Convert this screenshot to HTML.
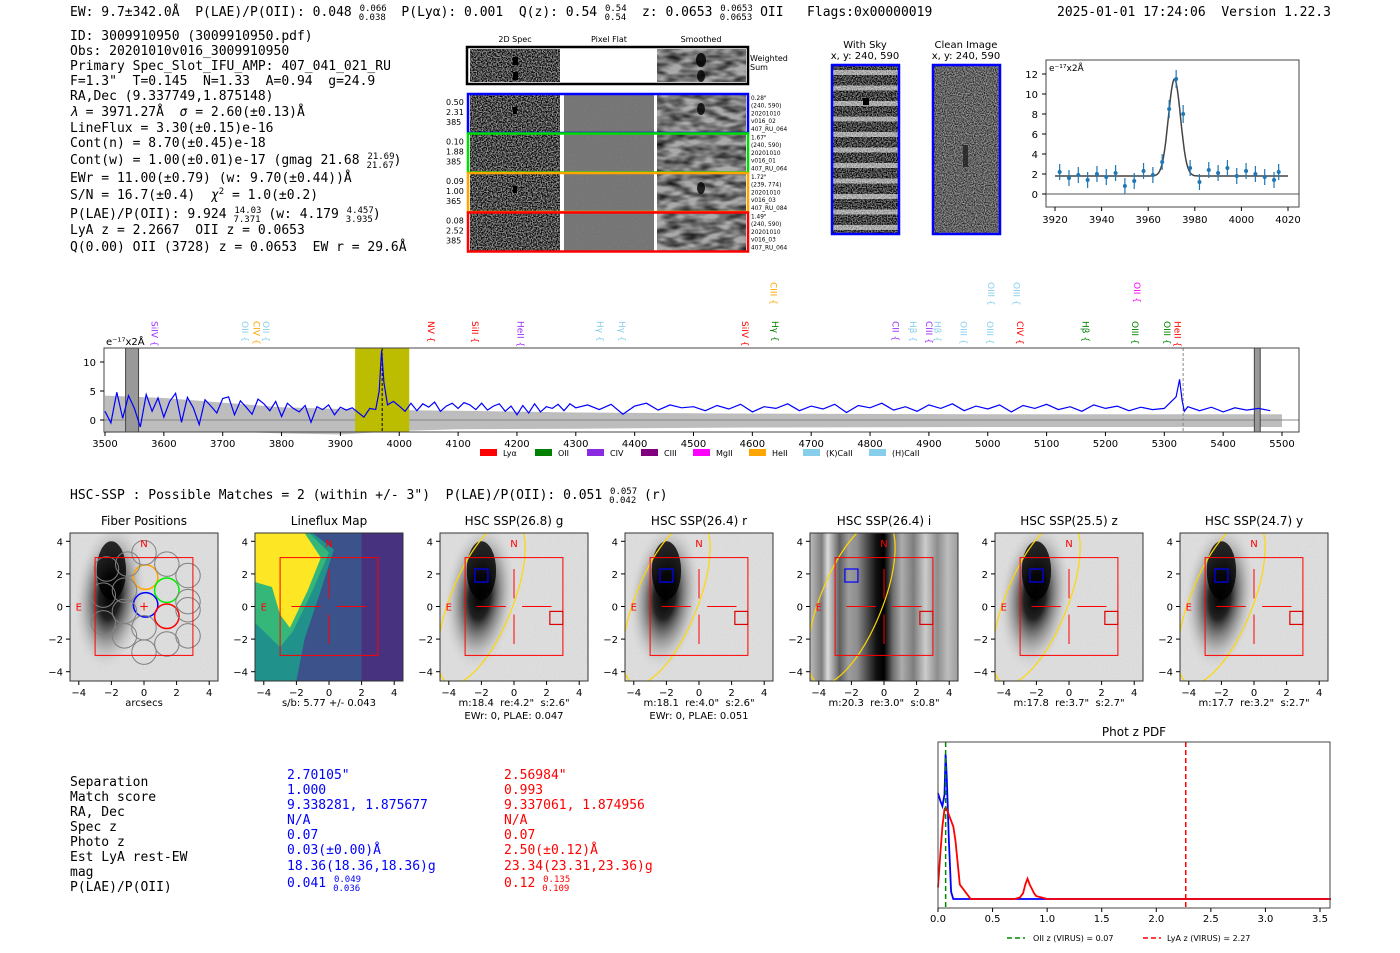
<!DOCTYPE html>
<html><head><meta charset="utf-8">
<style>
html,body{margin:0;padding:0;background:#fff;}
svg{display:block;}
text{white-space:pre;}
.m{font-family:"DejaVu Sans Mono","Liberation Mono",monospace;font-size:13px;}
.s{font-family:"DejaVu Sans","Liberation Sans",sans-serif;}
</style></head>
<body>
<svg id="root" width="1400" height="953" viewBox="0 0 1400 953" xmlns="http://www.w3.org/2000/svg" xml:space="preserve">
<defs>
<filter id="noise" x="0" y="0" width="100%" height="100%"><feTurbulence type="fractalNoise" baseFrequency="0.8" numOctaves="1" seed="3"/><feColorMatrix type="matrix" values="0 0 0 0 0  0 0 0 0 0  0 0 0 0 0  0 0 0 -3 2.0"/></filter>
<filter id="noise2" x="0" y="0" width="100%" height="100%"><feTurbulence type="fractalNoise" baseFrequency="0.9" numOctaves="1" seed="8"/><feColorMatrix type="matrix" values="0 0 0 0 0  0 0 0 0 0  0 0 0 0 0  0 0 0 -2 1.35"/></filter>
<filter id="smooth" x="0" y="0" width="100%" height="100%"><feTurbulence type="fractalNoise" baseFrequency="0.06 0.15" numOctaves="2" seed="5"/><feColorMatrix type="matrix" values="0 0 0 0 0  0 0 0 0 0  0 0 0 0 0  0 0 0 -1.5 1.05"/></filter>
<filter id="flat" x="0" y="0" width="100%" height="100%"><feTurbulence type="fractalNoise" baseFrequency="0.9" numOctaves="1" seed="2"/><feColorMatrix type="matrix" values="0 0 0 0 0  0 0 0 0 0  0 0 0 0 0  0 0 0 -0.3 0.45"/></filter>
<radialGradient id="blob" cx="0.5" cy="0.5" r="0.5"><stop offset="0" stop-color="#000"/><stop offset="0.3" stop-color="#222"/><stop offset="0.65" stop-color="#888" stop-opacity="0.6"/><stop offset="1" stop-color="#ddd" stop-opacity="0"/></radialGradient>
<linearGradient id="stripes" x1="0" y1="0" x2="1" y2="0"><stop offset="0" stop-color="#ccc"/><stop offset="0.08" stop-color="#888"/><stop offset="0.12" stop-color="#eee"/><stop offset="0.2" stop-color="#666"/><stop offset="0.26" stop-color="#aaa"/><stop offset="0.32" stop-color="#999"/><stop offset="0.4" stop-color="#444"/><stop offset="0.45" stop-color="#111"/><stop offset="0.5" stop-color="#000"/><stop offset="0.56" stop-color="#777"/><stop offset="0.62" stop-color="#bbb"/><stop offset="0.7" stop-color="#888"/><stop offset="0.78" stop-color="#ddd"/><stop offset="0.86" stop-color="#999"/><stop offset="0.93" stop-color="#ccc"/><stop offset="1" stop-color="#aaa"/></linearGradient>
</defs>

<g class="m" fill="#000">
<text x="70" y="16">EW: 9.7±342.0Å  P(LAE)/P(OII): 0.048 <tspan font-size="9" dy="-5">0.066</tspan><tspan font-size="9" dx="-28" dy="9">0.038</tspan><tspan dy="-4">  P(Lyα): 0.001  Q(z): 0.54 </tspan><tspan font-size="9" dy="-5">0.54</tspan><tspan font-size="9" dx="-22" dy="9">0.54</tspan><tspan dy="-4">  z: 0.0653 </tspan><tspan font-size="9" dy="-5">0.0653</tspan><tspan font-size="9" dx="-33" dy="9">0.0653</tspan><tspan dy="-4"> OII   Flags:0x00000019</tspan></text>
<text x="1057" y="16">2025-01-01 17:24:06  Version 1.22.3</text>
</g>
<g class="m" fill="#000">
<text x="70" y="40">ID: 3009910950 (3009910950.pdf)</text>
<text x="70" y="55">Obs: 20201010v016_3009910950</text>
<text x="70" y="70">Primary Spec_Slot_IFU_AMP: 407_041_021_RU</text>
<text x="70" y="85">F=1.3"  T=0.145  N=1.33  A=0.94  g=24.9</text>
<text x="70" y="100">RA,Dec (9.337749,1.875148)</text>
<text x="70" y="116"><tspan font-style="italic">λ</tspan> = 3971.27Å  <tspan font-style="italic">σ</tspan> = 2.60(±0.13)Å</text>
<text x="70" y="132">LineFlux = 3.30(±0.15)e-16</text>
<text x="70" y="147">Cont(n) = 8.70(±0.45)e-18</text>
<text x="70" y="164">Cont(w) = 1.00(±0.01)e-17 (gmag 21.68 <tspan font-size="9" dy="-5">21.69</tspan><tspan font-size="9" dx="-28" dy="9">21.67</tspan><tspan dy="-4">)</tspan></text>
<text x="70" y="182">EWr = 11.00(±0.79) (w: 9.70(±0.44))Å</text>
<text x="70" y="199">S/N = 16.7(±0.4)  <tspan font-style="italic">χ</tspan><tspan font-size="9" dy="-5">2</tspan><tspan dy="5"> = 1.0(±0.2)</tspan></text>
<text x="70" y="218">P(LAE)/P(OII): 9.924 <tspan font-size="9" dy="-5">14.03</tspan><tspan font-size="9" dx="-28" dy="9">7.371</tspan><tspan dy="-4"> (w: 4.179 </tspan><tspan font-size="9" dy="-5">4.457</tspan><tspan font-size="9" dx="-28" dy="9">3.935</tspan><tspan dy="-4">)</tspan></text>
<text x="70" y="234">LyA z = 2.2667  OII z = 0.0653</text>
<text x="70" y="251">Q(0.00) OII (3728) z = 0.0653  EW r = 29.6Å</text>
</g>

<g class="s">
<text x="515" y="42" font-size="8" text-anchor="middle">2D Spec</text>
<text x="609" y="42" font-size="8" text-anchor="middle">Pixel Flat</text>
<text x="701" y="42" font-size="8" text-anchor="middle">Smoothed</text>
<rect x="467" y="47" width="281" height="37" fill="#fff" stroke="#000" stroke-width="2.5"/>
<rect x="470" y="49" width="90" height="33" fill="#999"/>
<rect x="470" y="49" width="90" height="33" filter="url(#noise)"/>
<rect x="657" y="49" width="89" height="33" fill="#aaa"/>
<rect x="657" y="49" width="89" height="33" filter="url(#smooth)"/>
<rect x="513" y="57" width="5" height="8" fill="#000"/><rect x="513" y="72" width="5" height="8" fill="#000"/>
<ellipse cx="701" cy="60" rx="5" ry="7" fill="#000" opacity="0.85"/><ellipse cx="701" cy="76" rx="4" ry="6" fill="#000" opacity="0.8"/>
<text x="750" y="61" font-size="8">Weighted</text><text x="750" y="70" font-size="8">Sum</text>
</g>
<g class="s" font-size="8" id="fiberRows"></g>

<g class="s">
<text x="865" y="48" font-size="10" text-anchor="middle">With Sky</text>
<text x="865" y="59" font-size="10" text-anchor="middle">x, y: 240, 590</text>
<rect x="832" y="65" width="67" height="169" fill="#888"/>
<rect x="832" y="65" width="67" height="169" filter="url(#noise)"/>
<g opacity="0.55" id="skyStripes"></g>
<rect x="863" y="98" width="6" height="7" fill="#000"/>
<rect x="832" y="65" width="67" height="169" fill="none" stroke="#00f" stroke-width="2.5"/>
<text x="966" y="48" font-size="10" text-anchor="middle">Clean Image</text>
<text x="966" y="59" font-size="10" text-anchor="middle">x, y: 240, 590</text>
<rect x="933" y="65" width="67" height="169" fill="#999"/>
<rect x="933" y="65" width="67" height="169" filter="url(#noise2)"/>
<rect x="963" y="145" width="5" height="22" fill="#222" opacity="0.8"/>
<rect x="933" y="65" width="67" height="169" fill="none" stroke="#00f" stroke-width="2.5"/>
</g>

<g id="fitPanel" class="s"></g>
<g id="specPanel" class="s"></g>

<text class="m" x="70" y="499">HSC-SSP : Possible Matches = 2 (within +/- 3")  P(LAE)/P(OII): 0.051 <tspan font-size="9" dy="-5">0.057</tspan><tspan font-size="9" dx="-28" dy="9">0.042</tspan><tspan dy="-4"> (r)</tspan></text>

<g id="imgPanels" class="s"></g>

<g class="m">
<g fill="#000">
<text x="70" y="786">Separation</text><text x="70" y="801">Match score</text><text x="70" y="816">RA, Dec</text><text x="70" y="831">Spec z</text><text x="70" y="846">Photo z</text><text x="70" y="861">Est LyA rest-EW</text><text x="70" y="876">mag</text><text x="70" y="891">P(LAE)/P(OII)</text>
</g>
<g fill="#00f">
<text x="287" y="779">2.70105"</text><text x="287" y="794">1.000</text><text x="287" y="809">9.338281, 1.875677</text><text x="287" y="824">N/A</text><text x="287" y="839">0.07</text><text x="287" y="854">0.03(±0.00)Å</text><text x="287" y="870">18.36(18.36,18.36)g</text><text x="287" y="887">0.041 <tspan font-size="9" dy="-5">0.049</tspan><tspan font-size="9" dx="-28" dy="9">0.036</tspan></text>
</g>
<g fill="#f00">
<text x="504" y="779">2.56984"</text><text x="504" y="794">0.993</text><text x="504" y="809">9.337061, 1.874956</text><text x="504" y="824">N/A</text><text x="504" y="839">0.07</text><text x="504" y="854">2.50(±0.12)Å</text><text x="504" y="870">23.34(23.31,23.36)g</text><text x="504" y="887">0.12 <tspan font-size="9" dy="-5">0.135</tspan><tspan font-size="9" dx="-28" dy="9">0.109</tspan></text>
</g>
</g>

<g id="pdfPanel" class="s"></g>
</svg>

<script>
const specWave = [3500,3510,3520,3530,3540,3550,3560,3570,3580,3590,3600,3610,3620,3630,3640,3650,3660,3670,3680,3690,3700,3710,3720,3730,3740,3750,3760,3770,3780,3790,3800,3810,3820,3830,3840,3850,3860,3870,3880,3890,3900,3910,3920,3930,3940,3950,3960,3966,3970,3974,3980,3990,4000,4010,4020,4030,4040,4050,4060,4070,4080,4090,4100,4110,4120,4130,4140,4150,4160,4170,4180,4190,4200,4210,4220,4230,4240,4250,4260,4270,4280,4290,4300,4320,4340,4360,4380,4400,4420,4440,4460,4480,4500,4520,4540,4560,4580,4600,4620,4640,4660,4680,4700,4720,4740,4760,4780,4800,4820,4840,4860,4880,4900,4920,4940,4960,4980,5000,5020,5040,5060,5080,5100,5120,5140,5160,5180,5200,5220,5240,5260,5280,5300,5320,5326,5330,5334,5340,5360,5380,5400,5420,5440,5460,5480,5500];
const specFlux = [1.5,-0.5,4.8,0.3,4.2,2.0,-1.2,4.4,1.5,3.8,0.5,3.2,4.6,-0.4,3.9,2.1,-0.8,3.5,2.4,1.2,3.7,4.0,0.9,3.3,2.2,1.0,3.6,2.8,1.6,3.2,0.6,2.9,2.0,1.4,2.5,-0.4,2.3,1.8,2.6,0.9,2.2,1.7,2.1,1.3,0.5,2.0,1.8,5.0,12.0,6.5,2.6,3.2,2.4,1.5,2.9,1.6,2.8,2.2,3.1,1.5,2.4,2.9,2.0,3.0,2.6,1.8,2.9,1.7,2.4,2.8,1.5,2.4,0.9,2.5,1.2,2.8,1.4,2.3,2.0,2.7,1.6,2.8,2.1,2.6,1.8,2.7,1.0,2.4,2.9,1.7,2.6,2.1,2.3,1.6,2.5,1.9,2.7,1.4,2.3,2.0,2.8,1.6,2.4,1.9,2.7,1.3,2.5,2.1,2.9,1.7,2.3,1.5,2.6,2.0,2.8,1.6,2.4,1.9,2.6,1.4,2.5,2.0,2.7,1.8,2.3,1.5,2.6,2.0,2.4,1.6,2.2,1.8,2.0,4.0,7.0,3.5,1.5,2.3,1.6,2.2,1.4,2.1,1.7,2.0,1.6];
const skyWave = [3500,3600,3700,3800,3900,4000,4100,4300,4600,5000,5500];
const skyHi = [4.2,3.8,3.0,2.2,1.9,1.7,1.6,1.3,1.1,1.0,1.0];
const skyLo = [-2.2,-2.1,-2.0,-2.3,-2.5,-1.9,-1.6,-1.5,-1.3,-1.2,-1.2];
const specXTicks = [3500,3600,3700,3800,3900,4000,4100,4200,4300,4400,4500,4600,4700,4800,4900,5000,5100,5200,5300,5400,5500];
const specYTicks = [0,5,10];
const lineNames = ["SiIV","OII","CIV","OII","NV","SiII","HeII","Hγ","Hγ","SiIV","CIII","Hγ","CII","Hβ","CIII","Hβ","OIII","OIII","OIII","OIII","CIV","Hβ","OIII","OII","OIII","HeII"];
const lineWaves = [3583,3737,3757,3773,4053,4128,4205,4340,4378,4587,4635,4638,4842,4872,4899,4914,4958,5003,5005,5048,5054,5165,5249,5253,5304,5322];
const lineColors = ["#9b30ff","#87ceeb","#ffa500","#87ceeb","#f00","#f00","#9b30ff","#87ceeb","#87ceeb","#f00","#ffa500","#008000","#9b30ff","#87ceeb","#9b30ff","#87ceeb","#87ceeb","#87ceeb","#87ceeb","#87ceeb","#f00","#008000","#008000","#f0f","#008000","#f00"];
const lineHigh = [0,0,0,0,0,0,0,0,0,0,1,0,0,0,0,0,0,0,1,1,0,0,0,1,0,0];
const legendNames = ["Lyα","OII","CIV","CIII","MgII","HeII","(K)CaII","(H)CaII"];
const legendColors = ["#f00","#008000","#8a2be2","#800080","#f0f","#ffa500","#87ceeb","#87ceeb"];

const fitWave = [3922,3926,3930,3934,3938,3942,3946,3950,3954,3958,3962,3966,3969,3972,3975,3978,3982,3986,3990,3994,3998,4002,4006,4010,4014,4016];
const fitFlux = [2.2,1.6,1.9,1.4,2.0,1.7,2.1,0.8,1.3,2.3,1.9,3.2,8.5,11.5,8.0,2.6,1.2,2.4,2.1,2.6,1.8,2.3,2.0,1.7,1.4,2.2];
const fitErr = [0.8,0.8,0.8,0.8,0.8,0.8,0.8,0.8,0.8,0.8,0.8,0.8,0.9,0.9,0.9,0.8,0.8,0.8,0.8,0.8,0.8,0.8,0.8,0.8,0.8,0.8];
const fitXTicks = [3920,3940,3960,3980,4000,4020];
const fitYTicks = [0,2,4,6,8,10,12];
const modelCont = 1.8, modelPeak = 9.7, modelCenter = 3971.27, modelSigma = 2.6;

const pdfZ = [0,0.02,0.04,0.06,0.07,0.08,0.1,0.12,0.14,0.16,0.2,0.25,0.3,0.5,0.7,0.75,0.78,0.8,0.82,0.84,0.86,0.88,0.9,0.95,1.0,1.5,2.0,3.0,3.6];
const pdfBlue = [0.73,0.68,0.64,0.72,1.0,0.85,0.4,0.05,0.0,0.0,0.0,0.0,0.0,0.0,0.0,0.0,0.0,0.0,0.0,0.0,0.0,0.0,0.0,0.0,0.0,0.0,0.0,0.0,0.0];
const pdfRed = [0.08,0.3,0.5,0.62,0.63,0.62,0.58,0.54,0.5,0.4,0.1,0.05,0.0,0.0,0.0,0.01,0.04,0.1,0.14,0.1,0.07,0.04,0.02,0.01,0.0,0.0,0.0,0.0,0.0];
const pdfXTicks = [0.0,0.5,1.0,1.5,2.0,2.5,3.0,3.5];
const oiiZ = 0.07, lyaZ = 2.27;

const panelTitles = ["Fiber Positions","Lineflux Map","HSC SSP(26.8) g","HSC SSP(26.4) r","HSC SSP(26.4) i","HSC SSP(25.5) z","HSC SSP(24.7) y"];
const panelCaption1 = ["arcsecs","s/b: 5.77 +/- 0.043","m:18.4  re:4.2\"  s:2.6\"","m:18.1  re:4.0\"  s:2.6\"","m:20.3  re:3.0\"  s:0.8\"","m:17.8  re:3.7\"  s:2.7\"","m:17.7  re:3.2\"  s:2.7\""];
const panelCaption2 = ["","","EWr: 0, PLAE: 0.047","EWr: 0, PLAE: 0.051","","",""];
const panelTicks = [-4,-2,0,2,4];
const fiberX = [0.1,0.1,1.4,1.4,0.0,1.4,2.7,2.7,2.7,1.4,0.0,0.0,-1.2,-1.2,-2.5,-2.5,-2.3,-1.0,-1.2,2.7];
const fiberY = [0.1,1.8,1.0,-0.6,3.3,2.6,1.9,0.3,-1.8,-2.3,-2.8,-1.3,-1.8,-0.3,-1.0,0.7,2.3,2.6,1.0,-0.2];
const fiberCol = ["#00f","orange","#0e0","#f00","gray","gray","gray","gray","gray","gray","gray","gray","gray","gray","gray","gray","gray","gray","gray","gray"];
const rowVals = [["0.50","2.31","385"],["0.10","1.88","385"],["0.09","1.00","365"],["0.08","2.52","385"]];
const rowInfo = [["0.28\"","(240, 590)","20201010","v016_02","407_RU_064"],["1.67\"","(240, 590)","20201010","v016_01","407_RU_064"],["1.72\"","(239, 774)","20201010","v016_03","407_RU_084"],["1.49\"","(240, 590)","20201010","v016_03","407_RU_064"]];
const rowColors = ["#00f","#0d0","orange","#f00"];

const NS="http://www.w3.org/2000/svg";
function mk(tag, attrs, parent, txt){const e=document.createElementNS(NS,tag);for(const k in attrs)e.setAttribute(k,attrs[k]);if(txt!==undefined)e.textContent=txt;if(parent)parent.appendChild(e);return e;}

(function(){
 const g=document.getElementById('fiberRows');
 for(let i=0;i<4;i++){
  const y=95+i*39.5;
  const r=mk('g',{},g);
  
  
  mk('rect',{x:470,y:y,width:90,height:37,fill:'#999'},r);
  mk('rect',{x:470,y:y,width:90,height:37,filter:'url(#noise)'},r);
  mk('rect',{x:564,y:y,width:90,height:37,fill:'#8c8c8c'},r);
  mk('rect',{x:564,y:y,width:90,height:37,filter:'url(#flat)',opacity:0.5},r);
  mk('rect',{x:657,y:y,width:89,height:37,fill:'#aaa'},r);
  mk('rect',{x:657,y:y,width:89,height:37,filter:'url(#smooth)'},r);
  if(i===0||i===2){mk('ellipse',{cx:701,cy:y+14,rx:4,ry:6,fill:'#000',opacity:0.8},r);mk('rect',{x:513,y:y+12,width:4,height:7,fill:'#000'},r);}
  mk('rect',{x:468,y:y-1,width:280,height:39,fill:'none',stroke:rowColors[i],'stroke-width':2.5},r);
  rowVals[i].forEach((t,j)=>mk('text',{x:446,y:y+10+j*10},r,t));
  rowInfo[i].forEach((t,j)=>mk('text',{x:751,y:y+5+j*7.7,'font-size':5.8},r,t));
 }
 const ss=document.getElementById('skyStripes');
 for(let k=0;k<11;k++) mk('rect',{x:832,y:70+k*15.5,width:67,height:5,fill:'#fff'},ss);
})();

(function(){
 const g=document.getElementById('specPanel');
 const X0=105,X1=1282,L=104,R=1299,T=348,B=432;
 const sx=w=>X0+(w-3500)*(X1-X0)/2000;
 const sy=v=>420-v*5.8;
 let d='';skyWave.forEach((w,i)=>d+=(i?'L':'M')+sx(w)+','+sy(skyHi[i]));
 for(let i=skyWave.length-1;i>=0;i--)d+='L'+sx(skyWave[i])+','+sy(skyLo[i]);
 const band=mk('path',{d:d+'Z',fill:'#bdbdbd'},g);
 
 
 mk('line',{x1:L,x2:R,y1:sy(0),y2:sy(0),stroke:'#888','stroke-width':1},g);
 const hl=mk('rect',{x:sx(3925),y:T,width:sx(4017)-sx(3925),height:B-T,fill:'#bcbc00'},g);
 
 
 [[3535,3557],[5453,5463]].forEach(p=>{const m=mk('rect',{x:sx(p[0]),y:T,width:sx(p[1])-sx(p[0]),height:B-T,fill:'#999',stroke:'#444'},g);
  
  });
 mk('line',{x1:sx(3971),x2:sx(3971),y1:T,y2:B,stroke:'#000','stroke-dasharray':'3,2'},g);
 mk('line',{x1:sx(5332),x2:sx(5332),y1:T,y2:B,stroke:'#888','stroke-dasharray':'3,2'},g);
 let p='';specWave.forEach((w,i)=>p+=(i?'L':'M')+sx(w).toFixed(1)+','+sy(specFlux[i]).toFixed(1));
 const sl=mk('path',{d:p,fill:'none',stroke:'#00f','stroke-width':1.2},g);
 
 
 mk('rect',{x:L,y:T,width:R-L,height:B-T,fill:'none',stroke:'#444','stroke-width':1},g);
 specXTicks.forEach(t=>{mk('line',{x1:sx(t),x2:sx(t),y1:B,y2:B+4,stroke:'#000'},g);const e=mk('text',{x:sx(t),y:B+15,'font-size':10,'text-anchor':'middle'},g,t);
  
  });
 specYTicks.forEach(t=>{mk('line',{x1:L-4,x2:L,y1:sy(t),y2:sy(t),stroke:'#000'},g);mk('text',{x:L-8,y:sy(t)+4,'font-size':10,'text-anchor':'end'},g,t);});
 mk('text',{x:106,y:345,'font-size':10},g,'e⁻¹⁷x2Å');
 lineNames.forEach((n,i)=>{const x=sx(lineWaves[i]);const y=lineHigh[i]?282:321;
  const t=mk('text',{x:x,y:y,'font-size':9,fill:lineColors[i],transform:'rotate(90 '+x+' '+y+')','dominant-baseline':'middle'},g,n+' {');
  
  });
 const lx=[480,535,587,641,693,749,803,869];
 legendNames.forEach((n,i)=>{const lg=mk('g',{},g);
  
  
  mk('rect',{x:lx[i],y:449,width:17,height:7,fill:legendColors[i]},lg);mk('text',{x:lx[i]+23,y:456,'font-size':8},lg,n);});
})();

(function(){
 const g=document.getElementById('fitPanel');
 const L=1046,R=1299,T=60,B=207;
 const sx=w=>1055+(w-3920)*(1288-1055)/100;
 const sy=v=>194-v*10;
 mk('line',{x1:L,x2:R,y1:sy(0),y2:sy(0),stroke:'#555'},g);
 let d='';for(let w=3920;w<=4020;w+=0.5){const v=modelCont+modelPeak*Math.exp(-0.5*((w-modelCenter)/modelSigma)**2);d+=(d?'L':'M')+sx(w).toFixed(1)+','+sy(v).toFixed(1);}
 const ml=mk('path',{d:d,fill:'none',stroke:'#444','stroke-width':1.5},g);
 
 
 fitWave.forEach((w,i)=>{const x=sx(w),y=sy(fitFlux[i]);
  mk('line',{x1:x,x2:x,y1:sy(fitFlux[i]-fitErr[i]),y2:sy(fitFlux[i]+fitErr[i]),stroke:'#1f77b4','stroke-width':1.2},g);
  const c=mk('circle',{cx:x,cy:y,r:2,fill:'#1f77b4'},g);
  
  });
 mk('rect',{x:L,y:T,width:R-L,height:B-T,fill:'none',stroke:'#444'},g);
 fitXTicks.forEach(t=>{mk('line',{x1:sx(t),x2:sx(t),y1:B,y2:B+4,stroke:'#000'},g);mk('text',{x:sx(t),y:B+16,'font-size':10,'text-anchor':'middle'},g,t);});
 fitYTicks.forEach(t=>{mk('line',{x1:L-4,x2:L,y1:sy(t),y2:sy(t),stroke:'#000'},g);mk('text',{x:L-8,y:sy(t)+4,'font-size':10,'text-anchor':'end'},g,t);});
 mk('text',{x:1049,y:71,'font-size':9},g,'e⁻¹⁷x2Å');
})();

(function(){
 const g=document.getElementById('imgPanels');
 for(let p=0;p<7;p++){
  const off=p*185;
  const L=70+off,R=218+off,T=533,B=681;
  const cx=144+off,cy=606.5,s=16.3;
  const px=v=>cx+v*s, py=v=>cy-v*s;
  const pg=mk('g',{},g);
  
  
  const cp='cp'+p;
  const cpe=mk('clipPath',{id:cp},pg);mk('rect',{x:L,y:T,width:R-L,height:B-T},cpe);
  const ig=mk('g',{'clip-path':'url(#'+cp+')'},pg);
  if(p===1){
   mk('rect',{x:L,y:T,width:R-L,height:B-T,fill:'#3b528b'},ig);
   mk('rect',{x:px(2),y:T,width:R-px(2),height:B-T,fill:'#46327e'},ig);
   mk('polygon',{points:`${L},${B} ${L},${T} ${px(-1)},${T} ${px(0.3)},${py(3.5)} ${px(-0.5)},${py(1)} ${px(-1.5)},${py(-2)} ${px(-2)},${B}`,fill:'#21918c'},ig);
   mk('polygon',{points:`${L},${py(-1)} ${L},${T} ${px(-1.2)},${T} ${px(0)},${py(3.3)} ${px(-1)},${py(1)} ${px(-2.2)},${py(-1.5)} ${px(-3)},${py(-2.5)}`,fill:'#35b779'},ig);
   mk('polygon',{points:`${L},${py(1.5)} ${L},${T} ${px(-1.5)},${T} ${px(-0.5)},${py(3)} ${px(-1.3)},${py(1)} ${px(-2.4)},${py(-1.3)} ${px(-3)},${py(-0.5)} ${px(-3.5)},${py(1.2)}`,fill:'#fde725'},ig);
  } else {
   mk('rect',{x:L,y:T,width:R-L,height:B-T,fill:p===4?'url(#stripes)':'#eeeeee'},ig);
   mk('rect',{x:L,y:T,width:R-L,height:B-T,filter:'url(#flat)',opacity:0.25},ig);
   if(p!==4){
    mk('ellipse',{cx:px(-2.1),cy:py(0.6),rx:s*2.2,ry:s*4.6,fill:'url(#blob)',transform:`rotate(6 ${px(-2.1)} ${py(0.6)})`},ig);
    mk('ellipse',{cx:px(-2.0),cy:py(2.2),rx:s*0.9,ry:s*1.8,fill:'#000',opacity:0.8},ig);
   }
   if(p>=2) mk('ellipse',{cx:px(-2.0),cy:py(0.3),rx:s*1.9,ry:s*5.4,fill:'none',stroke:'#ffd700','stroke-width':1.2,transform:`rotate(22 ${px(-2.0)} ${py(0.3)})`},ig);
  }
  if(p===0){
   fiberX.forEach((fx,i)=>{const c=mk('circle',{cx:px(fx),cy:py(fiberY[i]),r:0.75*s,fill:'none',stroke:fiberCol[i],'stroke-width':fiberCol[i]==='gray'?1:1.5},ig);
    
    });
   mk('text',{x:px(0),y:py(0)+4,'font-size':12,fill:'#f00','text-anchor':'middle'},ig,'+');
  }
  mk('rect',{x:px(-3),y:py(3),width:6*s,height:6*s,fill:'none',stroke:'#f00','stroke-width':1},pg);
  if(p>=1){
   mk('line',{x1:px(-2.3),x2:px(-0.5),y1:cy,y2:cy,stroke:'#f00'},pg);
   mk('line',{x1:px(0.5),x2:px(2.3),y1:cy,y2:cy,stroke:'#f00'},pg);
   mk('line',{x1:cx,x2:cx,y1:py(2.3),y2:py(0.5),stroke:'#f00'},pg);
   mk('line',{x1:cx,x2:cx,y1:py(-0.5),y2:py(-2.3),stroke:'#f00'},pg);
  }
  if(p>=2){
   mk('rect',{x:px(-2.4),y:py(2.3),width:0.8*s,height:0.8*s,fill:'none',stroke:'#00f','stroke-width':1.2},pg);
   mk('rect',{x:px(2.2),y:py(-0.3),width:0.8*s,height:0.8*s,fill:'none',stroke:'#d00','stroke-width':1.2},pg);
  }
  mk('text',{x:cx,y:py(3.65),'font-size':10,fill:'#f00','text-anchor':'middle'},pg,'N');
  mk('text',{x:px(-4),y:cy+4,'font-size':10,fill:'#f00','text-anchor':'middle'},pg,'E');
  mk('rect',{x:L,y:T,width:R-L,height:B-T,fill:'none',stroke:'#333'},pg);
  const tt=mk('text',{x:cx,y:525,'font-size':12,'text-anchor':'middle'},pg,panelTitles[p]);
  
  
  panelTicks.forEach(t=>{
   mk('line',{x1:px(t),x2:px(t),y1:B,y2:B+4,stroke:'#000'},pg);
   mk('text',{x:px(t),y:B+15,'font-size':10,'text-anchor':'middle'},pg,t<0?'−'+(-t):t);
   mk('line',{x1:L-4,x2:L,y1:py(t),y2:py(t),stroke:'#000'},pg);
   mk('text',{x:L-7,y:py(t)+4,'font-size':10,'text-anchor':'end'},pg,t<0?'−'+(-t):t);
  });
  mk('text',{x:cx,y:706,'font-size':10,'text-anchor':'middle'},pg,panelCaption1[p]);
  if(panelCaption2[p]) mk('text',{x:cx,y:719,'font-size':10,'text-anchor':'middle'},pg,panelCaption2[p]);
 }
})();

(function(){
 const g=document.getElementById('pdfPanel');
 const L=938,R=1330,T=742,B=908;
 const sx=z=>938+z*(1320-938)/3.5;
 const sy=v=>899-v*145;
 mk('text',{x:1134,y:736,'font-size':12,'text-anchor':'middle'},g,'Phot z PDF');
 const curve=(arr,col,name)=>{let d='';pdfZ.forEach((z,i)=>d+=(i?'L':'M')+sx(z).toFixed(1)+','+sy(arr[i]).toFixed(1));
  const e=mk('path',{d:d,fill:'none',stroke:col,'stroke-width':1.8},g);
  
  };
 curve(pdfBlue,'#00f','pdf-blue-curve');
 curve(pdfRed,'#f00','pdf-red-curve');
 mk('line',{x1:sx(oiiZ),x2:sx(oiiZ),y1:T,y2:B,stroke:'#080','stroke-width':1.5,'stroke-dasharray':'5,3'},g);
 mk('line',{x1:sx(lyaZ),x2:sx(lyaZ),y1:T,y2:B,stroke:'#f00','stroke-width':1.5,'stroke-dasharray':'5,3'},g);
 mk('rect',{x:L,y:T,width:R-L,height:B-T,fill:'none',stroke:'#444'},g);
 pdfXTicks.forEach(t=>{mk('line',{x1:sx(t),x2:sx(t),y1:B,y2:B+4,stroke:'#000'},g);mk('text',{x:sx(t),y:B+14,'font-size':10,'text-anchor':'middle'},g,t.toFixed(1));});
 const l1=mk('g',{},g);
 
 
 mk('line',{x1:1007,x2:1025,y1:938,y2:938,stroke:'#080','stroke-width':1.5,'stroke-dasharray':'5,3'},l1);
 mk('text',{x:1033,y:941,'font-size':8},l1,'OII z (VIRUS) = 0.07');
 const l2=mk('g',{},g);
 
 
 mk('line',{x1:1143,x2:1161,y1:938,y2:938,stroke:'#f00','stroke-width':1.5,'stroke-dasharray':'5,3'},l2);
 mk('text',{x:1167,y:941,'font-size':8},l2,'LyA z (VIRUS) = 2.27');
})();
</script>
</body></html>
